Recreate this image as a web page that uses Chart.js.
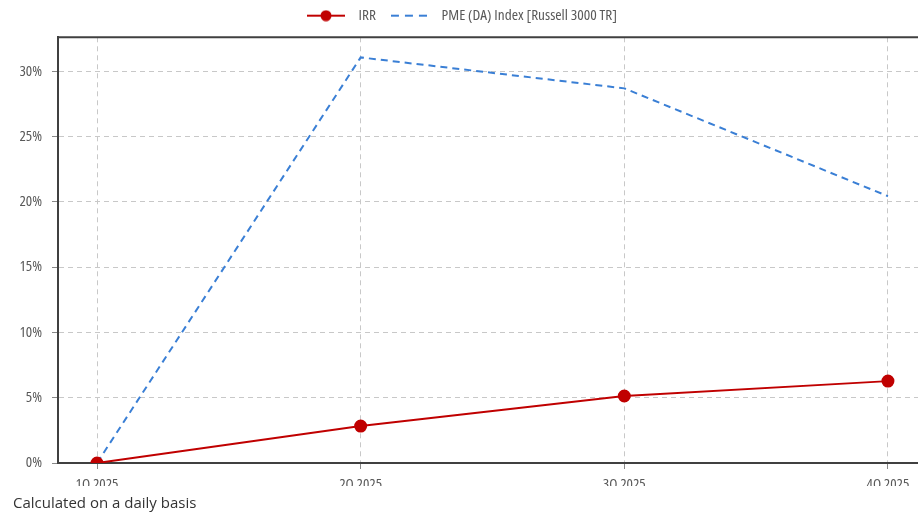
<!DOCTYPE html>
<html>
<head>
<meta charset="utf-8">
<script src="https://cdn.jsdelivr.net/npm/chart.js@4.4.1/dist/chart.umd.min.js"></script>
<style>
  html, body { margin: 0; padding: 0; background: #fff; }
  #wrap { width: 918px; height: 516px; position: relative; }
  #note { position: absolute; left: 13px; top: 492px; font: 15px/20px "Open Sans", sans-serif; color: #333; white-space: nowrap; }
</style>
</head>
<body>
<div id="wrap">
  <canvas id="chart" width="918" height="516"></canvas>
  <div id="note">Calculated on a daily basis</div>
</div>
<script>
let quarters = ['1Q 2025', '2Q 2025', '3Q 2025', '4Q 2025']
let irrValues = [0, 2.83, 5.13, 6.27]
let pmeValues = [0, 31.06, 28.69, 20.43]
let yTicks = [0, 5, 10, 15, 20, 25, 30]

const RED = '#c00000'
const BLUE = '#3a7fd5'
const narrowFont = { family: '"Open Sans", sans-serif', size: 15, weight: '400 condensed' }
const legendFont = { family: '"Open Sans", sans-serif', size: 15.3, weight: '400 condensed' }

// legend markers
function makeIrrMarker () {
    const c = document.createElement('canvas')
    c.width = 38; c.height = 12
    const ctx = c.getContext('2d')
    ctx.strokeStyle = RED; ctx.lineWidth = 2
    ctx.beginPath(); ctx.moveTo(0, 6); ctx.lineTo(38, 6); ctx.stroke()
    ctx.fillStyle = RED
    ctx.beginPath(); ctx.arc(19, 6, 5.5, 0, Math.PI * 2); ctx.fill()
    return c
}
function makePmeMarker () {
    const c = document.createElement('canvas')
    c.width = 36; c.height = 4
    const ctx = c.getContext('2d')
    ctx.strokeStyle = BLUE; ctx.lineWidth = 2
    ctx.setLineDash([8, 6])
    ctx.beginPath(); ctx.moveTo(0, 2); ctx.lineTo(36, 2); ctx.stroke()
    return c
}
const markers = [makeIrrMarker(), makePmeMarker()]

const topBorder = {
    id: 'topBorder',
    afterInit (chart) {
        const legend = chart.legend
        const fit = legend.fit
        legend.fit = function () {
            fit.call(legend)
            legend.height += 4
        }
    },
    afterDraw (chart) {
        const a = chart.chartArea, ctx = chart.ctx
        ctx.save()
        ctx.strokeStyle = '#404040'; ctx.lineWidth = 2
        ctx.beginPath(); ctx.moveTo(a.left, a.top); ctx.lineTo(a.right, a.top); ctx.stroke()
        ctx.restore()
    }
}

new Chart(document.getElementById('chart').getContext('2d'), {
    type: 'line',
    data: {
        datasets: [{
            label: 'IRR',
            data: irrValues.map((v, i) => ({ x: i, y: v })),
            borderColor: RED,
            backgroundColor: RED,
            borderWidth: 2,
            pointRadius: 5.5,
            pointHoverRadius: 5.5,
            pointBackgroundColor: RED,
            pointBorderColor: RED,
            fill: false,
            order: 0
        }, {
            label: 'PME (DA) Index [Russell 3000 TR]',
            data: pmeValues.map((v, i) => ({ x: i, y: v })),
            borderColor: BLUE,
            backgroundColor: BLUE,
            borderWidth: 2,
            borderDash: [7, 5],
            pointRadius: 0,
            fill: false,
            order: 1
        }]
    },
    options: {
        responsive: false,
        animation: false,
        layout: { autoPadding: false, padding: { left: 0, right: 0, top: 0, bottom: 30 } },
        plugins: {
            legend: {
                position: 'top',
                labels: {
                    usePointStyle: true,
                    pointStyleWidth: 50,
                    padding: 8,
                    color: '#595959',
                    font: legendFont,
                    generateLabels: chart => chart.data.datasets.map((ds, i) => ({
                        text: ds.label,
                        pointStyle: markers[i],
                        fontColor: '#595959',
                        datasetIndex: i,
                        hidden: false,
                        lineWidth: 0,
                        strokeStyle: 'transparent',
                        fillStyle: 'transparent'
                    }))
                }
            },
            tooltip: { enabled: false }
        },
        scales: {
            x: {
                type: 'linear',
                min: -0.148,
                max: 3.114,
                afterBuildTicks: scale => {
                    scale.ticks = quarters.map((q, i) => ({ value: i }))
                },
                ticks: {
                    color: '#595959',
                    font: narrowFont,
                    padding: 7,
                    maxRotation: 0,
                    callback: v => quarters[v]
                },
                grid: {
                    color: '#c8c8c8',
                    tickColor: '#888',
                    tickLength: 6,
                    tickBorderDash: []
                },
                border: { display: true, color: '#404040', width: 2, dash: [5, 4] },
                afterFit: scale => {
                    scale.height = 23
                    scale.paddingLeft = 0
                    scale.paddingRight = 0
                }
            },
            y: {
                min: 0,
                max: 32.6,
                afterBuildTicks: scale => {
                    scale.ticks = yTicks.map(v => ({ value: v }))
                },
                ticks: {
                    color: '#595959',
                    font: narrowFont,
                    padding: 10,
                    callback: v => v + '%'
                },
                grid: {
                    color: '#c8c8c8',
                    tickColor: '#888',
                    tickLength: 6,
                    tickBorderDash: []
                },
                border: { display: true, color: '#404040', width: 2, dash: [5, 4] },
                afterFit: scale => {
                    scale.width = 58
                    scale.paddingTop = 0
                    scale.paddingBottom = 0
                }
            }
        }
    },
    plugins: [topBorder]
});
</script>
</body>
</html>
